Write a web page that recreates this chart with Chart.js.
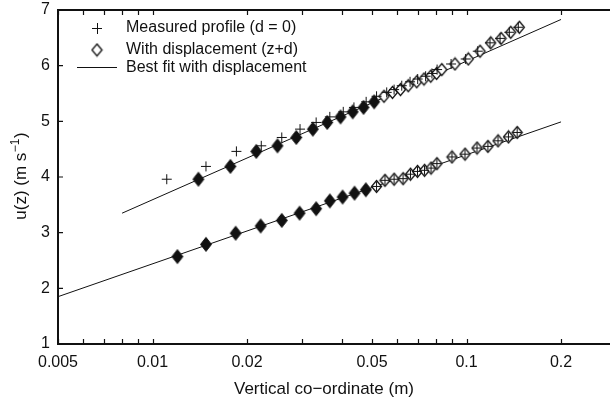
<!DOCTYPE html>
<html lang="en">
<head>
  <meta charset="UTF-8">
  <title>Wind profile with displacement</title>
  <script src="https://cdn.jsdelivr.net/npm/chart.js"></script>
  <style>
    html, body { margin: 0; padding: 0; background: #fff; }
    #wrap { width: 610px; height: 401px; }
  </style>
</head>
<body>
  <div id="wrap"><canvas id="profileChart" width="610" height="401"></canvas></div>

  <script>
    // measured heights z (m) for the upper "+" markers
    const zMeasured = [0.0111, 0.0148, 0.0185, 0.0222, 0.0258, 0.0295, 0.0332, 0.0367, 0.0405, 0.0438,
                       0.0479, 0.0517, 0.0557, 0.0588, 0.0622, 0.0661, 0.0699, 0.0741, 0.0776, 0.0806,
                       0.0893, 0.0994, 0.1086, 0.1188, 0.1279, 0.1369, 0.1462];
    // heights with displacement z+d (m), upper diamonds
    const zDisplaced = [0.0140, 0.0177, 0.0214, 0.0250, 0.0287, 0.0324, 0.0360, 0.0397, 0.0434, 0.0470,
                        0.0508, 0.0546, 0.0581, 0.0616, 0.0652, 0.0694, 0.0732, 0.0769, 0.0803, 0.0834,
                        0.0919, 0.1013, 0.1104, 0.1194, 0.1288, 0.1383, 0.1473];
    // wind speed u(z) (m/s) for the upper profile
    const uUpper = [3.96, 4.19, 4.46, 4.56, 4.71, 4.86, 4.98, 5.08, 5.17, 5.25,
                    5.35, 5.45, 5.52, 5.57, 5.64, 5.71, 5.76, 5.81, 5.86, 5.93,
                    6.03, 6.12, 6.26, 6.41, 6.49, 6.60, 6.69];
    // lower profile
    const zLower = [0.0120, 0.0148, 0.0184, 0.0221, 0.0258, 0.0294, 0.0332, 0.0367, 0.0403, 0.0440,
                    0.0478, 0.0517, 0.0550, 0.0588, 0.0628, 0.0663, 0.0698, 0.0735, 0.0771, 0.0805,
                    0.0899, 0.0989, 0.1080, 0.1170, 0.1260, 0.1360, 0.1450];
    const uLower = [2.57, 2.79, 2.99, 3.12, 3.22, 3.35, 3.43, 3.57, 3.64, 3.71,
                    3.77, 3.83, 3.94, 3.96, 3.97, 4.05, 4.10, 4.12, 4.16, 4.24,
                    4.36, 4.41, 4.52, 4.55, 4.65, 4.72, 4.80];
    const nFilled = 11;   // first points drawn as filled diamonds

    // best fit lines (end points)
    const fitUpperX = [0.008, 0.2];
    const fitUpperY = [3.35, 6.83];
    const fitLowerX = [0.005, 0.2];
    const fitLowerY = [1.85, 4.99];

    const xTickLabels = [0.005, 0.01, 0.02, 0.05, 0.1, 0.2];
    const xMinorTicks = [0.006, 0.007, 0.008, 0.009, 0.03, 0.04, 0.06, 0.07, 0.08, 0.09];
    const yTicks = [1, 2, 3, 4, 5, 6, 7];

    const FONT = '"Liberation Sans", Arial, Helvetica, sans-serif';
    const INK = '#111';

    function pts(xs, ys, from, to) {
      const out = [];
      for (let i = from; i < to; i++) out.push({ x: xs[i], y: ys[i] });
      return out;
    }

    // diamond marker as a small canvas
    function makeDiamond(w, h, fill, lw) {
      const c = document.createElement('canvas');
      c.width = w + 3; c.height = h + 3;
      const g = c.getContext('2d');
      g.beginPath();
      g.moveTo(c.width / 2, 1.5);
      g.lineTo(c.width - 1.5, c.height / 2);
      g.lineTo(c.width / 2, c.height - 1.5);
      g.lineTo(1.5, c.height / 2);
      g.closePath();
      g.fillStyle = fill;
      g.fill();
      g.lineWidth = lw;
      g.strokeStyle = INK;
      g.stroke();
      return c;
    }
    const filledDiamond = makeDiamond(11, 14, INK, 1);
    const openDiamond = makeDiamond(10, 12, '#fff', 1.3);

    // axes frame, inward ticks, legend and titles
    const framePlugin = {
      id: 'frame',
      afterDatasetsDraw(chart) {
        const ctx = chart.ctx;
        const xs = chart.scales.x, ys = chart.scales.y;
        const a = chart.chartArea;
        ctx.save();
        ctx.strokeStyle = INK;
        ctx.lineWidth = 2;
        ctx.beginPath();
        ctx.moveTo(a.left, a.top); ctx.lineTo(610, a.top);
        ctx.moveTo(a.left, a.bottom); ctx.lineTo(610, a.bottom);
        ctx.moveTo(a.left, a.top - 1); ctx.lineTo(a.left, a.bottom + 1);
        ctx.stroke();

        ctx.lineWidth = 1.2;
        ctx.beginPath();
        xTickLabels.concat(xMinorTicks).forEach(v => {
          const px = Math.round(xs.getPixelForValue(v)) + 0.5;
          ctx.moveTo(px, a.bottom); ctx.lineTo(px, a.bottom - 5);
          ctx.moveTo(px, a.top); ctx.lineTo(px, a.top + 5);
        });
        yTicks.forEach(v => {
          const py = ys.getPixelForValue(v);
          ctx.moveTo(a.left, py); ctx.lineTo(a.left + 5, py);
        });
        ctx.stroke();

        // legend
        ctx.lineWidth = 1;
        ctx.beginPath();
        ctx.moveTo(92, 28.5); ctx.lineTo(102, 28.5);
        ctx.moveTo(97.5, 23); ctx.lineTo(97.5, 34);
        ctx.moveTo(77, 67.5); ctx.lineTo(117, 67.5);
        ctx.stroke();
        ctx.drawImage(openDiamond, 97 - openDiamond.width / 2, 50 - openDiamond.height / 2);

        ctx.fillStyle = INK;
        ctx.font = '16px ' + FONT;
        ctx.textAlign = 'left';
        ctx.textBaseline = 'middle';
        ctx.fillText('Measured profile (d = 0)', 126, 28);
        ctx.fillText('With displacement (z+d)', 126, 50);
        ctx.fillText('Best fit with displacement', 126, 68);

        // x title
        ctx.font = '17px ' + FONT;
        ctx.textAlign = 'center';
        ctx.textBaseline = 'alphabetic';
        ctx.fillText('Vertical co\u2212ordinate (m)', 324, 394);

        // y title with superscript
        const main = 'u(z) (m s', sup = '\u22121', tail = ')';
        const supFont = '12px ' + FONT;
        ctx.font = '17px ' + FONT;
        const w1 = ctx.measureText(main).width, w3 = ctx.measureText(tail).width;
        ctx.font = supFont;
        const w2 = ctx.measureText(sup).width;
        const total = w1 + w2 + w3 + 1;
        ctx.translate(26, 176);
        ctx.rotate(-Math.PI / 2);
        ctx.textAlign = 'left';
        const x0 = -total / 2;
        ctx.font = '17px ' + FONT;
        ctx.fillText(main, x0, 0);
        ctx.font = supFont;
        ctx.fillText(sup, x0 + w1 + 0.5, -7);
        ctx.font = '17px ' + FONT;
        ctx.fillText(tail, x0 + w1 + w2 + 1, 0);
        ctx.restore();
      }
    };

    const ctx = document.getElementById('profileChart').getContext('2d');
    new Chart(ctx, {
      type: 'scatter',
      data: {
        datasets: [
          {
            label: 'fit upper', data: pts(fitUpperX, fitUpperY, 0, 2), showLine: true,
            borderColor: INK, borderWidth: 1, pointRadius: 0, order: 10
          },
          {
            label: 'fit lower', data: pts(fitLowerX, fitLowerY, 0, 2), showLine: true,
            borderColor: INK, borderWidth: 1, pointRadius: 0, order: 10
          },
          {
            label: 'upper open', data: pts(zDisplaced, uUpper, nFilled, zDisplaced.length),
            pointStyle: openDiamond, pointRadius: 5, order: 5
          },
          {
            label: 'lower open', data: pts(zLower, uLower, nFilled, zLower.length),
            pointStyle: openDiamond, pointRadius: 5, order: 5
          },
          {
            label: 'measured upper', data: pts(zMeasured, uUpper, 0, zMeasured.length),
            pointStyle: 'cross', pointRadius: 5, borderColor: INK, borderWidth: 1, order: 3
          },
          {
            label: 'measured lower', data: pts(zLower, uLower, 0, zLower.length),
            pointStyle: 'cross', pointRadius: 4.5, borderColor: INK, borderWidth: 1, order: 3
          },
          {
            label: 'upper filled', data: pts(zDisplaced, uUpper, 0, nFilled),
            pointStyle: filledDiamond, pointRadius: 5, order: 1
          },
          {
            label: 'lower filled', data: pts(zLower, uLower, 0, nFilled),
            pointStyle: filledDiamond, pointRadius: 5, order: 1
          }
        ]
      },
      options: {
        responsive: false,
        animation: false,
        events: [],
        layout: { autoPadding: false, padding: { left: 0, right: 0, top: 10, bottom: 0 } },
        plugins: { legend: { display: false }, tooltip: { enabled: false } },
        scales: {
          x: {
            type: 'logarithmic',
            min: 0.005,
            max: 0.2864,
            grid: { display: false, drawTicks: false },
            border: { display: false },
            afterBuildTicks: s => { s.ticks = xTickLabels.map(v => ({ value: v })); },
            afterFit: s => { s.height = 57; s.paddingLeft = 0; s.paddingRight = 0; },
            ticks: {
              autoSkip: false, maxRotation: 0, padding: 9,
              color: INK, font: { family: FONT, size: 16 },
              callback: v => String(v)
            }
          },
          y: {
            min: 1,
            max: 7,
            grid: { display: false, drawTicks: false },
            border: { display: false },
            afterBuildTicks: s => { s.ticks = yTicks.map(v => ({ value: v })); },
            afterFit: s => { s.width = 58; s.paddingTop = 0; s.paddingBottom = 0; },
            ticks: { padding: 8, color: INK, font: { family: FONT, size: 16 } }
          }
        }
      },
      plugins: [framePlugin]
    });
  </script>
</body>
</html>
